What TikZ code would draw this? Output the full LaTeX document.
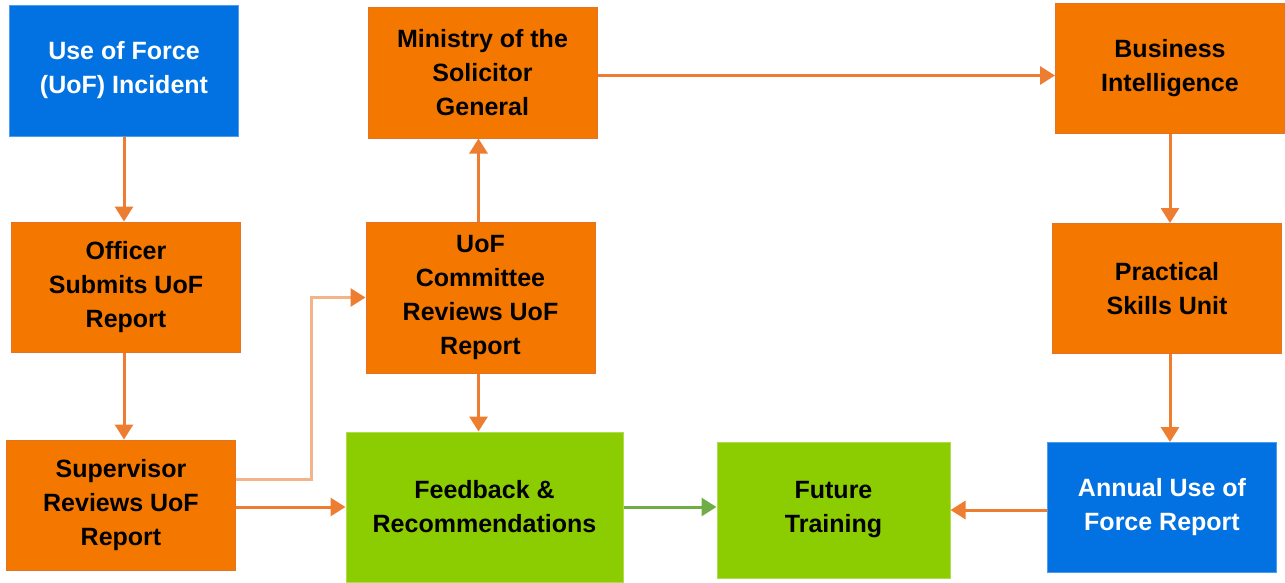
\documentclass[tikz,border=0pt]{standalone}
\usepackage{fontspec}
\setmainfont{Liberation Sans}
\usepackage{tikz}
\usetikzlibrary{arrows.meta,positioning}

\definecolor{boxblue}{HTML}{0272E2}
\definecolor{boxorange}{HTML}{F47800}
\definecolor{boxgreen}{HTML}{8BCD00}
\definecolor{orangeedge}{HTML}{E2742A}
\definecolor{arroworange}{HTML}{ED7D31}
\definecolor{arrowlight}{HTML}{F4B489}
\definecolor{arrowgreen}{HTML}{70AD47}

\begin{document}
\begin{tikzpicture}[x=1pt,y=-1pt,
    box/.style={rectangle,inner sep=0pt,align=center,line width=1pt,
      minimum width=229pt,minimum height=130pt,
      font=\fontsize{25}{34}\selectfont\bfseries},
    orange node/.style={box,fill=boxorange,draw=orangeedge,text=black},
    blue node/.style={box,fill=boxblue,draw=boxblue!70!white,text=white},
    green node/.style={box,fill=boxgreen,draw=boxgreen!70!white,text=black},
    flow/.style={-{Triangle[length=15pt,width=18pt]},line width=3pt,draw=arroworange}]
    \useasboundingbox (0,0) rectangle (1285,582);
    % left column
    \node[blue node, minimum height=131pt] (incident) at (124,70.5) {Use of Force\\(UoF) Incident};
    \node[orange node] (officer) [below=85pt of incident, xshift=2pt] {Officer\\Submits UoF\\Report};
    \node[orange node] (supervisor) [below=87pt of officer, xshift=-5pt] {Supervisor\\Reviews UoF\\Report};
    % middle column
    \node[orange node, minimum height=131pt] (ministry) at (482.5,72.5) {Ministry of the\\Solicitor\\General};
    \node[orange node, minimum height=151pt] (committee) [below=83pt of ministry, xshift=-2pt] {UoF\\Committee\\Reviews UoF\\Report};
    \node[green node, minimum width=277pt, minimum height=150pt] (feedback) [below=58pt of committee, xshift=4pt] {Feedback \&\\Recommendations};
    \node[green node, minimum width=233pt, minimum height=136pt] (future) [right=93pt of feedback, yshift=-3pt] {Future\\Training};
    % right column
    \node[orange node] (intel) at (1170,68.5) {Business\\Intelligence};
    \node[orange node] (skills) [below=89pt of intel, xshift=-3pt] {Practical\\Skills Unit};
    \node[blue node] (annual) [below=88pt of skills, xshift=-5pt] {Annual Use of\\Force Report};

    \draw[flow] (incident.south) -- (incident.south |- officer.north);
    \draw[flow] (incident.south |- officer.south) -- (incident.south |- supervisor.north);
    \draw[flow] (supervisor.east |- feedback.west) -- (feedback.west);
    \draw[flow, draw=arrowlight, -{Triangle[length=15pt,width=18pt,color=arroworange]}]
      ([yshift=26pt]supervisor.east) -- ++(75pt,0) |- (committee.west);
    \draw[flow] ([xshift=-2pt]committee.north) -- ([xshift=-2pt]committee.north |- ministry.south);
    \draw[flow] ([xshift=-2pt]committee.south) -- ([xshift=-2pt]committee.south |- feedback.north);
    \draw[flow] ([yshift=-3pt]ministry.east) -- ([yshift=-3pt]ministry.east -| intel.west);
    \draw[flow] (intel.south) -- (intel.south |- skills.north);
    \draw[flow] (intel.south |- skills.south) -- (intel.south |- annual.north);
    \draw[flow] (annual.west |- future.east) -- (future.east);
    \draw[flow, draw=arrowgreen] (feedback.east) -- (feedback.east -| future.west);
\end{tikzpicture}
\end{document}
